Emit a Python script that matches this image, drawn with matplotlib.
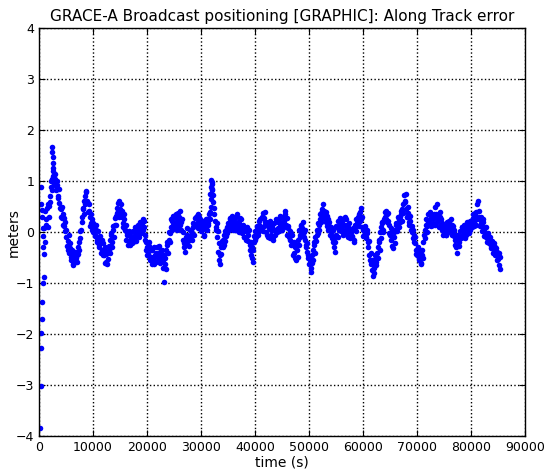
import numpy as np
import matplotlib
matplotlib.use("Agg")
import matplotlib.pyplot as plt

# Early, irregularly sampled points (convergence phase and spikes)
early_t = [250, 300, 350, 400, 420, 450, 500, 550, 600, 650, 700, 750, 800, 850, 900, 950,
           2450, 2500, 2550, 2600, 2650,
           31700, 31800, 31900, 32000, 32100]
early_err = [-3.84, -3.02, -2.27, 0.89, -1.97, 0.56, -1.71, 0.43, 0.30, -1.37, 0.08, -0.08, -1.00, -0.29, -0.87, -0.42,
             1.67, 1.58, 1.48, 1.35, 1.25,
             0.75, 0.88, 1.02, 0.95, 0.82]

t_step = 200

# Along-track error, samples at 1000, 1200, 1400 ... s
t_start_a = 1000
along_err_a = [
    0.08, 0.42, 0.25, 0.56, 0.30,
    0.70, 0.88, 1.05, 1.20, 0.95,
    1.05, 0.82, 0.92, 0.66, 0.58,
    0.45, 0.28, 0.36, 0.12, 0.20,
    -0.10, -0.28, -0.18, -0.40, -0.32,
    -0.55, -0.42, -0.62, -0.38, -0.50,
    -0.45, -0.30, -0.35, -0.12, 0.05,
    0.30, 0.48, 0.62, 0.55, 0.80,
    0.58, 0.42, 0.30, 0.18, 0.25,
    0.00, 0.10, -0.08, 0.05, -0.15,
    -0.10, -0.25, -0.18, -0.35, -0.22,
    -0.45, -0.30, -0.58, -0.40, -0.52,
    -0.28, -0.15, -0.02, -0.20, 0.05,
    0.15, 0.32, 0.48, 0.40, 0.62,
    0.45, 0.55, 0.30, 0.18, 0.25,
    0.05, -0.15, -0.05, -0.18, -0.08,
    -0.12, -0.22, 0.02, -0.10, -0.05,
    0.05, -0.08, 0.12, 0.02, 0.10,
    0.18, 0.05, 0.22, -0.05, -0.20,
    -0.30, -0.42, -0.28, -0.55, -0.48,
    -0.35, -0.50, -0.62, -0.40, -0.45,
    -0.30, -0.48, -0.38, -0.55, -0.45,
    -0.70, -0.97, -0.50, -0.35, -0.25,
    -0.15, -0.02, 0.10, 0.22, 0.15,
    0.32, 0.18, 0.35, 0.20, 0.12,
    0.28, 0.42, 0.05, -0.15, -0.30,
    -0.38, -0.10, -0.05, -0.18, -0.08,
    -0.12, 0.05, -0.02, 0.10, 0.15,
    0.30, 0.18, 0.35, 0.22, 0.12,
    0.20, 0.05, 0.15, -0.05, 0.08,
    0.12, 0.25, 0.18, 0.40, 0.65,
    0.98, 0.72, 0.48, 0.22, 0.05,
    -0.10, -0.38, -0.55, -0.62, -0.30,
    -0.15, -0.25, 0.02, -0.08, 0.10,
    0.18, 0.05, 0.28, 0.12, 0.20,
    0.08, 0.22, 0.15, 0.35, 0.02,
    0.18, 0.10, 0.25, -0.02, 0.08,
    -0.10, 0.02, -0.15, 0.05, -0.05,
    -0.25, -0.45, -0.30, -0.58, -0.20,
    0.02, -0.10, 0.10, 0.00, 0.15,
    0.25, 0.05, 0.38, 0.12, 0.20,
    0.00, 0.15, -0.10, 0.08, 0.22,
    -0.05, 0.10, -0.15, 0.18, 0.05,
    0.22, 0.08, 0.25, 0.12, 0.05,
    0.18, 0.30, 0.12, 0.42, 0.10,
    -0.05, 0.08, -0.15, -0.02, -0.20,
    -0.25, -0.40, -0.30, -0.55, -0.35,
    -0.15, 0.05, -0.05, 0.15, 0.08,
    0.00, -0.15, -0.25, -0.38, -0.50,
    -0.62, -0.55, -0.78, -0.45, -0.35,
    -0.25, -0.10, 0.05, -0.02, 0.15,
    0.25, 0.38, 0.30, 0.55, 0.42,
    0.30, 0.20, 0.32, 0.05, 0.12,
    -0.05, 0.02, -0.20, -0.12, -0.38,
    -0.05, 0.10, 0.22, 0.05, 0.15,
    0.08, 0.20, 0.00, 0.30, 0.12,
    -0.05, 0.10, 0.02, -0.12, 0.05,
    -0.08, 0.05, -0.15, 0.10, 0.25,
    0.18, 0.35, 0.22, 0.48, 0.10,
    0.05, -0.05, 0.08, -0.10, -0.02,
    -0.30, -0.45, -0.62, -0.55, -0.85,
    -0.70, -0.52, -0.65, -0.40, -0.30,
    -0.20, 0.00, 0.10, 0.18, 0.05,
    0.30, 0.42, 0.35, 0.22, 0.15,
    -0.05, -0.15, 0.02, -0.32, -0.10,
    0.05, 0.18, 0.12, 0.25, 0.30,
    0.35, 0.22, 0.55, 0.72, 0.60,
    0.45, 0.30, 0.38, 0.15, 0.22,
    0.00, -0.12, -0.05, -0.22, -0.35,
    -0.45, -0.32, -0.55, -0.40, -0.60,
    -0.35, -0.20, 0.05, 0.15, 0.00,
    0.20, 0.35, 0.25, 0.12, 0.30,
    0.18, 0.28, 0.50, 0.35, 0.20,
    0.25, 0.40, 0.15, 0.05, 0.12,
    0.00, 0.10, -0.05, 0.15, 0.05,
    0.20, 0.10, 0.15, 0.02, -0.08,
    -0.15, -0.05, -0.40, -0.12, -0.20,
    0.02, -0.08, 0.10, 0.05, -0.02,
    0.08, 0.15, 0.00, 0.12, 0.05,
    0.22, 0.15, 0.28, 0.20, 0.32,
    0.40, 0.55, 0.30, 0.25, 0.18,
    0.12, 0.20, 0.05, -0.05, -0.10,
    -0.12, -0.05, -0.22, -0.15, -0.28,
    -0.25, -0.35, -0.30, -0.45, -0.38,
    -0.52, -0.65, -0.48,
]

# Along-track error, samples at 1100, 1300, 1500 ... s
t_start_b = 1100
along_err_b = [
    -0.20, 0.15, 0.48, 0.10, 0.52,
    0.60, 1.00, 0.82, 1.10, 1.15,
    0.90, 1.00, 0.70, 0.85, 0.48,
    0.30, 0.50, 0.15, 0.28, 0.02,
    0.05, -0.35, -0.05, -0.22, -0.48,
    -0.35, -0.65, -0.48, -0.58, -0.40,
    -0.58, -0.42, -0.20, 0.02, 0.20,
    0.45, 0.35, 0.70, 0.78, 0.62,
    0.40, 0.55, 0.12, 0.35, 0.05,
    0.18, -0.05, 0.15, -0.20, 0.02,
    -0.30, -0.08, -0.40, -0.15, -0.45,
    -0.35, -0.60, -0.42, -0.62, -0.35,
    -0.40, -0.05, -0.30, 0.12, -0.10,
    0.28, 0.15, 0.38, 0.58, 0.30,
    0.35, 0.42, 0.10, 0.35, 0.05,
    0.15, -0.02, -0.25, 0.02, -0.25,
    0.00, -0.15, -0.20, 0.10, -0.18,
    -0.05, 0.15, -0.10, 0.20, -0.02,
    0.00, 0.25, 0.10, -0.15, -0.35,
    -0.45, -0.20, -0.50, -0.35, -0.62,
    -0.55, -0.30, -0.45, -0.58, -0.30,
    -0.50, -0.28, -0.60, -0.35, -0.58,
    -0.45, -0.62, -0.72, -0.20, -0.40,
    0.00, -0.20, 0.25, 0.05, 0.32,
    0.10, 0.28, 0.05, 0.38, 0.30,
    0.15, 0.20, 0.25, 0.00, -0.22,
    -0.20, -0.25, 0.08, -0.28, 0.05,
    0.02, -0.15, 0.18, -0.05, 0.28,
    0.12, 0.32, 0.08, 0.30, 0.25,
    0.02, 0.22, -0.08, 0.18, 0.25,
    0.05, 0.15, 0.35, 0.25, 0.50,
    0.85, 0.60, 0.35, 0.10, 0.18,
    0.02, -0.22, -0.45, -0.42, -0.18,
    -0.30, -0.05, -0.18, 0.05, -0.02,
    0.05, 0.25, 0.12, 0.32, 0.05,
    0.28, 0.05, 0.30, 0.12, 0.20,
    0.00, 0.28, 0.05, 0.15, -0.10,
    0.08, -0.12, 0.10, -0.18, 0.05,
    -0.35, -0.20, -0.50, -0.35, -0.08,
    -0.15, 0.12, -0.05, 0.22, 0.05,
    0.10, 0.30, 0.02, 0.28, 0.40,
    0.20, -0.05, 0.18, -0.12, 0.05,
    0.15, -0.10, 0.05, -0.05, 0.25,
    0.00, 0.20, 0.02, 0.32, 0.18,
    0.05, 0.22, 0.35, 0.15, 0.28,
    0.12, -0.10, 0.02, -0.25, -0.05,
    -0.45, -0.20, -0.50, -0.25, -0.48,
    -0.25, -0.10, 0.12, -0.02, 0.20,
    -0.10, 0.05, -0.30, -0.22, -0.45,
    -0.48, -0.70, -0.60, -0.55, -0.20,
    -0.40, -0.18, -0.05, 0.18, 0.05,
    0.35, 0.20, 0.45, 0.28, 0.35,
    0.40, 0.12, 0.25, 0.20, -0.05,
    0.10, -0.12, 0.05, -0.30, -0.20,
    0.12, -0.10, 0.05, 0.28, 0.02,
    0.25, -0.05, 0.15, 0.05, 0.25,
    0.15, -0.10, 0.18, 0.00, -0.10,
    0.08, -0.20, 0.15, 0.02, 0.18,
    0.30, 0.12, 0.40, 0.25, 0.30,
    -0.08, 0.12, -0.12, 0.05, -0.20,
    -0.18, -0.55, -0.40, -0.75, -0.60,
    -0.80, -0.45, -0.58, -0.50, -0.15,
    -0.35, -0.12, 0.20, 0.00, 0.25,
    0.40, 0.25, 0.20, 0.38, -0.02,
    0.08, -0.28, -0.10, 0.00, -0.22,
    0.15, 0.02, 0.30, 0.10, 0.20,
    0.42, 0.45, 0.38, 0.62, 0.75,
    0.30, 0.50, 0.20, 0.32, 0.05,
    0.12, 0.05, -0.20, -0.10, -0.42,
    -0.30, -0.50, -0.38, -0.62, -0.45,
    -0.50, -0.05, -0.12, 0.25, 0.12,
    0.35, 0.18, 0.40, 0.28, 0.15,
    0.35, 0.15, 0.30, 0.55, 0.32,
    0.10, 0.30, 0.25, 0.18, -0.05,
    0.12, -0.05, 0.20, 0.00, 0.22,
    0.05, 0.25, -0.05, 0.12, 0.05,
    -0.25, -0.30, -0.05, -0.28, -0.10,
    -0.12, 0.10, -0.10, 0.15, -0.12,
    -0.05, 0.20, 0.12, -0.02, 0.22,
    0.10, 0.35, 0.12, 0.38, 0.15,
    0.25, 0.62, 0.42, 0.12, 0.30,
    0.02, 0.25, -0.08, 0.10, -0.20,
    -0.02, -0.20, -0.10, -0.32, -0.18,
    -0.40, -0.22, -0.45, -0.32, -0.55,
    -0.40, -0.72,
]

along_t_a = t_start_a + t_step * np.arange(len(along_err_a))
along_t_b = t_start_b + t_step * np.arange(len(along_err_b))

title = "GRACE-A Broadcast positioning [GRAPHIC]: Along Track error"
xticks = [0, 10000, 20000, 30000, 40000, 50000, 60000, 70000, 80000, 90000]
yticks = [-4, -3, -2, -1, 0, 1, 2, 3, 4]

fig = plt.figure(figsize=(5.48, 4.69), dpi=100)
ax = fig.add_axes([0.071, 0.070, 0.887, 0.870])

style = dict(linestyle='none', marker='o', color='blue', ms=4.0, mew=0)
ax.plot(early_t, early_err, **style)
ax.plot(along_t_a, along_err_a, **style)
ax.plot(along_t_b, along_err_b, **style)

ax.set_xlim(0, 90000)
ax.set_ylim(-4, 4)
ax.set_xticks(xticks)
ax.set_yticks(yticks)
ax.grid(True, color='black', linestyle=':', linewidth=1)
ax.tick_params(direction='in', top=True, right=True, labelsize=9, length=4)
for s in ax.spines.values():
    s.set_linewidth(1.0)
ax.set_title(title, fontsize=11, pad=5)
ax.set_xlabel("time (s)", fontsize=10, labelpad=1)
ax.set_ylabel("meters", fontsize=10, labelpad=-3.5)

fig.savefig("out.png", dpi=100)
